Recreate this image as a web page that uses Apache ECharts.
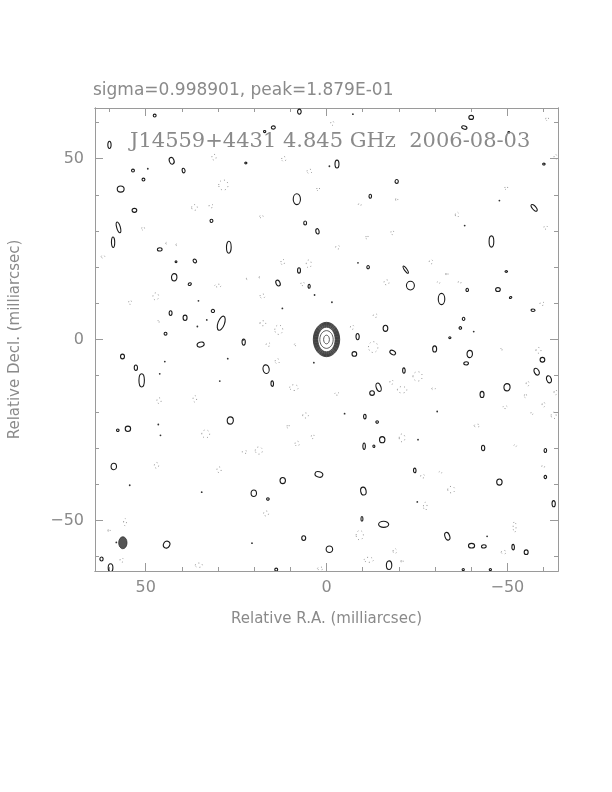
<!DOCTYPE html>
<html><head><meta charset="utf-8">
<script src="https://cdn.jsdelivr.net/npm/echarts@6/dist/echarts.min.js"></script>
<style>html,body{margin:0;padding:0;background:#fff}#c{width:612px;height:792px}</style>
</head><body><div id="c"></div>
<script>
// ---- data (milliarcsec) ----
const titleText = 'sigma=0.998901, peak=1.879E-01';
const mapLabel = 'J14559+4431 4.845 GHz  2006-08-03';
const xName = 'Relative R.A. (milliarcsec)';
const yName = 'Relative Decl. (milliarcsec)';
const axisMin = -64, axisMax = 64;
const majorTicks = [-50, 0, 50];
const minorTicks = [-60, -50, -40, -30, -20, -10, 0, 10, 20, 30, 40, 50, 60];

// central source: nested contour extents [RA width, Dec height]
const coreCenter = [0, 0];
const coreW = [7.3, 7.05, 6.8, 6.55, 6.3, 6.05, 5.8, 5.55, 5.3, 5.05, 4.8, 3.7, 1.6];
const coreH = [9.5, 9.25, 9.0, 8.75, 8.5, 8.25, 8.0, 7.7, 7.4, 7.1, 6.8, 4.9, 2.4];

// restoring beam [RA, Dec, width, height, angle]
const beam = [56.3, -56.2, 2.3, 3.3, 0];

// positive noise contours [RA, Dec, width, height, tilt deg]
const posContours = [
[47.5,61.9,0.8,0.8,0],[7.5,63.0,1.0,1.4,0],[14.7,58.6,1.1,0.9,0],[17.1,57.5,0.6,0.6,0],
[60.0,53.8,0.9,2.0,0],[42.8,49.4,1.3,1.9,20],[39.5,46.7,0.8,1.3,10],[53.5,46.7,0.8,0.8,0],
[50.6,44.2,0.8,0.8,0],[22.3,48.8,0.6,0.5,0],[56.9,41.6,1.9,1.7,0],[8.2,38.8,2.0,3.0,0],
[53.1,35.7,1.3,1.1,0],[31.8,32.8,0.8,0.9,0],[57.5,31.0,1.0,3.1,15],[59.0,26.9,0.9,2.9,0],
[5.9,32.2,0.8,1.1,0],[2.5,29.9,0.9,1.5,10],[27.0,25.5,1.3,3.3,0],[46.1,24.9,1.3,0.9,0],
[41.6,21.5,0.5,0.5,0],[36.4,21.7,0.9,1.1,30],[42.1,17.2,1.5,2.0,0],[37.8,15.3,0.9,0.7,30],
[13.4,15.6,1.1,1.7,25],[7.6,19.1,0.8,1.5,0],[4.8,14.7,0.6,1.1,0],[43.1,7.3,0.8,1.3,0],
[39.1,6.0,1.1,1.5,0],[31.4,7.9,0.9,0.9,0],[29.1,4.5,1.8,4.1,-20],[44.5,1.6,0.8,0.8,0],
[-40.0,61.4,1.3,1.1,0],[-38.1,58.6,1.5,0.9,-20],[-50.4,57.3,0.5,0.4,0],[-2.9,48.5,1.1,2.2,0],
[-19.4,43.7,0.9,1.1,0],[-12.1,39.6,0.7,1.1,0],[-60.1,48.5,0.7,0.5,0],[-57.4,36.4,1.0,2.3,40],
[-45.6,27.1,1.3,3.1,0],[-11.5,20.0,0.7,0.9,0],[-21.9,19.3,0.7,2.4,35],[-23.2,14.9,2.2,2.4,0],
[-38.9,13.7,0.7,0.9,0],[-47.4,13.8,1.3,1.1,0],[-49.7,18.8,0.7,0.5,0],[-50.9,11.6,0.7,0.5,30],
[-31.8,11.2,1.8,3.1,0],[-57.1,8.1,1.1,0.7,0],[-37.9,5.7,0.7,0.9,0],[-37.0,3.2,0.7,0.7,0],
[-16.3,3.1,1.3,1.7,0],[-8.6,0.8,0.9,1.7,0],[-34.1,0.5,0.6,0.5,0],
[34.8,-1.4,2.0,1.3,20],[22.9,-0.7,0.9,1.7,0],[56.4,-4.7,1.1,1.3,0],[52.7,-7.8,0.9,1.5,0],
[51.1,-11.3,1.5,3.7,0],[16.7,-8.2,1.7,2.4,10],[15.0,-12.2,0.7,1.5,0],[26.6,-22.4,1.7,2.0,0],
[54.9,-24.7,1.5,1.5,0],[57.7,-25.1,0.7,0.7,0],[58.8,-35.1,1.5,1.8,0],[12.1,-39.0,1.5,1.7,0],
[2.1,-37.3,2.2,1.5,-15],[20.1,-42.5,1.5,1.8,0],[16.2,-44.1,0.7,0.7,0],[44.2,-56.7,1.7,2.0,-30],
[6.3,-54.9,1.1,1.3,0],[62.2,-60.7,0.9,1.1,0],[59.7,-63.1,1.3,2.2,0],[13.9,-63.6,0.8,0.8,0],
[-7.7,-4.0,1.3,1.3,0],[-18.3,-3.6,1.7,1.1,-30],[-29.9,-2.6,1.1,1.7,0],[-39.6,-4.0,1.5,2.0,0],
[-38.6,-6.6,1.3,0.9,0],[-59.7,-5.6,1.3,1.3,0],[-58.1,-8.9,1.3,2.0,30],[-61.5,-11.0,1.3,2.0,20],
[-21.4,-8.6,0.7,1.5,0],[-14.4,-13.2,1.3,2.4,20],[-12.6,-14.8,1.3,1.3,0],[-49.9,-13.2,1.7,2.0,0],
[-43.0,-15.2,1.1,1.7,0],[-10.6,-21.3,0.7,1.3,0],[-14.0,-22.8,0.7,0.7,0],[-15.4,-27.7,1.5,1.7,0],
[-10.4,-29.5,0.7,1.8,0],[-13.1,-29.5,0.55,0.7,0],[-43.3,-30.0,0.9,1.5,0],[-60.5,-30.7,0.7,1.1,0],
[-24.4,-36.2,0.7,1.3,0],[-47.8,-39.4,1.5,1.7,0],[-60.5,-38.0,0.7,0.9,0],[-10.2,-41.9,1.5,2.2,10],
[-62.8,-45.4,0.9,1.7,0],[-9.8,-49.6,0.55,1.3,0],[-15.8,-51.1,2.8,1.7,0],[-33.4,-54.4,1.3,2.2,20],
[-40.1,-57.0,1.7,1.3,0],[-43.5,-57.2,1.3,0.9,0],[-51.6,-57.4,0.7,1.5,0],[-55.2,-58.8,1.1,1.3,0],
[-0.8,-58.0,1.8,1.8,0],[-17.3,-62.4,1.5,2.4,0],[-37.8,-63.6,0.6,0.6,0],[-45.3,-63.6,0.6,0.6,0]
];

// tiny positive blips [RA, Dec]
const posDots = [
[49.4,47.2],[35.4,10.7],[33.1,5.4],[35.7,3.6],[12.2,8.6],[3.3,12.3],[-0.8,47.9],[23.0,-0.1],
[-7.3,62.3],[-1.5,10.3],[-40.7,2.2],[-47.8,38.4],[-38.2,31.5],[-8.7,21.2],
[44.7,-6.1],[46.1,-9.5],[29.5,-11.5],[46.5,-23.5],[45.9,-26.5],[54.4,-40.3],[34.5,-42.2],
[20.6,-56.3],[3.5,-6.4],[27.3,-5.3],[58.1,-56.1],
[-5.0,-20.5],[-30.6,-19.9],[-44.4,-54.4],[-25.3,-27.7],[-25.1,-44.9]
];

// negative contours [RA, Dec, width, height]
const negContours = [
[31.1,50.4,1.2,1.6],[11.8,49.9,1.2,1.4],[4.7,46.5,1.4,1.2],[28.5,42.7,2.6,2.8],[2.3,41.6,0.8,1.0],
[36.5,36.5,1.6,1.6],[31.9,36.9,1.2,1.0],[18.0,34.0,1.0,0.8],[50.7,30.7,0.8,1.0],[61.8,22.9,1.0,0.8],
[12.1,21.4,1.0,1.6],[4.9,20.9,1.4,2.2],[30.0,14.9,1.8,0.8],[47.2,11.9,1.6,2.0],[54.3,10.3,0.8,1.2],
[17.7,12.0,1.4,1.2],[6.6,15.4,1.0,1.0],[17.6,4.5,1.6,1.4],[13.2,2.7,2.2,2.6],[46.3,5.1,0.6,0.6],
[44.2,26.6,0.5,0.5],[41.4,26.2,0.5,0.5],[21.9,16.8,0.5,0.5],[18.4,17.2,0.5,0.5],
[-1.6,59.8,0.9,1.2],[-49.7,41.9,0.8,1.0],[-9.2,37.3,0.8,0.8],[-19.4,38.7,0.6,1.0],[-36.1,34.5,1.0,1.4],
[-18.2,29.6,0.8,1.2],[-11.2,28.3,0.6,1.2],[-3.1,25.5,1.2,1.0],[-60.6,31.0,1.0,1.0],[-28.9,21.5,1.0,1.2],
[-33.3,18.1,0.6,1.0],[-16.6,15.8,1.4,1.4],[-31.0,15.8,0.8,0.6],[-36.8,15.8,0.8,0.8],[-59.6,9.9,1.2,1.0],
[-13.5,6.6,1.2,1.0],[-7.1,3.4,1.0,1.2],[-61.0,61.0,0.8,1.0],[-63.3,50.4,0.8,1.6],
[16.1,-1.4,1.2,1.0],[8.6,-1.4,0.6,0.6],[13.6,-6.0,1.2,1.4],[9.0,-13.3,2.4,1.6],[46.3,-16.9,1.2,1.6],
[36.4,-16.4,1.0,1.8],[5.8,-21.0,1.6,1.4],[33.4,-26.1,2.2,2.2],[10.6,-24.0,0.6,1.2],[3.8,-26.8,0.8,1.2],
[8.1,-28.8,1.2,1.4],[22.6,-31.1,1.4,0.8],[18.7,-30.7,2.0,2.0],[47.0,-34.8,1.2,1.6],[29.7,-36.0,1.2,1.6],
[16.7,-48.1,1.4,1.4],[55.7,-50.5,0.8,2.0],[60.1,-52.8,0.6,1.0],[56.6,-61.0,1.0,1.2],[35.3,-62.4,2.0,1.2],
[1.7,-63.3,1.6,0.8],
[-12.9,-2.1,2.6,3.0],[-25.2,-10.2,2.6,2.6],[-18.0,-11.8,1.0,1.2],[-20.9,-13.9,2.6,1.8],[-2.9,-15.0,1.2,0.8],
[-29.6,-13.6,1.0,0.6],[-58.6,-3.0,1.4,1.6],[-48.5,-2.6,0.6,0.6],[-55.6,-12.2,0.8,1.4],[-63.3,-14.6,0.8,1.4],
[-49.4,-18.7,1.2,0.8],[-55.0,-15.5,0.6,1.2],[-60.0,-18.0,0.8,1.4],[-62.8,-21.0,1.4,1.8],[-56.8,-20.4,0.6,0.8],
[-41.6,-23.8,1.6,0.8],[-20.9,-27.2,1.6,2.2],[-52.2,-29.3,0.8,0.6],[-59.9,-35.1,0.8,0.8],[-26.6,-37.8,1.2,1.0],
[-31.5,-36.7,0.8,0.6],[-34.5,-41.5,2.0,1.8],[-27.3,-46.1,1.0,2.2],[-9.2,-54.1,2.0,2.6],[-52.0,-51.8,0.8,3.0],
[-11.7,-60.9,2.6,1.4],[-18.9,-58.5,1.0,1.4],[-49.0,-58.8,1.4,1.0],[-20.9,-61.3,0.6,1.0]
];

// ---- chart ----
const FRAME = '#9a9a9a', TXT = '#8a8a8a';
const coreData = coreW.map((w, i) => [coreCenter[0], coreCenter[1], w, coreH[i], 0]);

function ellipseRenderer(style) {
  return function (params, api) {
    const c = api.coord([api.value(0), api.value(1)]);
    const s = api.size([api.value(2), api.value(3)]);
    const ang = (api.value(4) || 0) * Math.PI / 180;
    return {
      type: 'ellipse', x: c[0], y: c[1], rotation: ang,
      shape: { cx: 0, cy: 0, rx: Math.max(Math.abs(s[0]) / 2, 0.8), ry: Math.max(Math.abs(s[1]) / 2, 0.8) },
      style: Object.assign({}, style)
    };
  };
}
function dotRenderer(params, api) {
  const c = api.coord([api.value(0), api.value(1)]);
  return { type: 'circle', shape: { cx: c[0], cy: c[1], r: 0.9 }, style: { fill: '#333' } };
}

const gridRect = { left: 95, top: 108, width: 463, height: 463 };
function xAx(grid, pos, ticks, len, labels) {
  const a = {
    type: 'value', gridIndex: grid, position: pos, min: axisMin, max: axisMax, inverse: true,
    axisLine: { show: true, onZero: false, lineStyle: { color: FRAME, width: 1 } },
    axisTick: { show: true, inside: true, length: len, customValues: ticks, lineStyle: { color: FRAME } },
    splitLine: { show: false },
    axisLabel: { show: !!labels }
  };
  if (labels) {
    a.axisLabel = { show: true, customValues: majorTicks, margin: 9, color: TXT, fontFamily: 'DejaVu Sans', fontSize: 16,
      formatter: v => (v < 0 ? '\u2212' + Math.abs(v) : String(v)) };
    a.name = xName; a.nameLocation = 'middle'; a.nameGap = 41;
    a.nameTextStyle = { color: TXT, fontFamily: 'DejaVu Sans', fontSize: 15 };
  }
  return a;
}
function yAx(grid, pos, ticks, len, labels) {
  const a = {
    type: 'value', gridIndex: grid, position: pos, min: axisMin, max: axisMax,
    axisLine: { show: true, onZero: false, lineStyle: { color: FRAME, width: 1 } },
    axisTick: { show: true, inside: true, length: len, customValues: ticks, lineStyle: { color: FRAME } },
    splitLine: { show: false },
    axisLabel: { show: !!labels }
  };
  if (labels) {
    a.axisLabel = { show: true, customValues: majorTicks, margin: 11, color: TXT, fontFamily: 'DejaVu Sans', fontSize: 16,
      formatter: v => (v < 0 ? '\u2212' + Math.abs(v) : String(v)) };
    a.name = yName; a.nameLocation = 'middle'; a.nameGap = 72; a.nameRotate = 90;
    a.nameTextStyle = { color: TXT, fontFamily: 'DejaVu Sans', fontSize: 15 };
  }
  return a;
}

const chart = echarts.init(document.getElementById('c'), null, { renderer: 'canvas' });
chart.setOption({
  animation: false,
  backgroundColor: '#fff',
  title: [
    { text: titleText, left: 93, top: 82, padding: 0,
      textStyle: { fontFamily: 'DejaVu Sans', fontSize: 17, fontWeight: 'normal', color: TXT } },
    { text: mapLabel, left: 130, top: 131, padding: 0,
      textStyle: { fontFamily: 'DejaVu Serif', fontSize: 21, fontWeight: 'normal', color: '#8a8a8a' } }
  ],
  grid: [Object.assign({}, gridRect), Object.assign({}, gridRect)],
  xAxis: [xAx(0, 'bottom', minorTicks, 4, false), xAx(0, 'top', minorTicks, 4, false),
          xAx(1, 'bottom', majorTicks, 8, true), xAx(1, 'top', majorTicks, 8, false)],
  yAxis: [yAx(0, 'left', minorTicks, 4, false), yAx(0, 'right', minorTicks, 4, false),
          yAx(1, 'left', majorTicks, 8, true), yAx(1, 'right', majorTicks, 8, false)],
  series: [
    { type: 'custom', xAxisIndex: 0, yAxisIndex: 0, clip: true, data: negContours,
      renderItem: ellipseRenderer({ fill: 'none', stroke: '#9a9a9a', lineWidth: 1, lineDash: [1, 3] }) },
    { type: 'custom', xAxisIndex: 0, yAxisIndex: 0, clip: true, data: posContours,
      renderItem: ellipseRenderer({ fill: 'none', stroke: '#1a1a1a', lineWidth: 1.1 }) },
    { type: 'custom', xAxisIndex: 0, yAxisIndex: 0, clip: true, data: posDots, renderItem: dotRenderer },
    { type: 'custom', xAxisIndex: 0, yAxisIndex: 0, clip: true, data: coreData,
      renderItem: ellipseRenderer({ fill: 'none', stroke: '#333', lineWidth: 0.8 }) },
    { type: 'custom', xAxisIndex: 0, yAxisIndex: 0, clip: true, data: [beam],
      renderItem: ellipseRenderer({ fill: '#555', stroke: '#333', lineWidth: 0.8 }) }
  ]
});
</script></body></html>
